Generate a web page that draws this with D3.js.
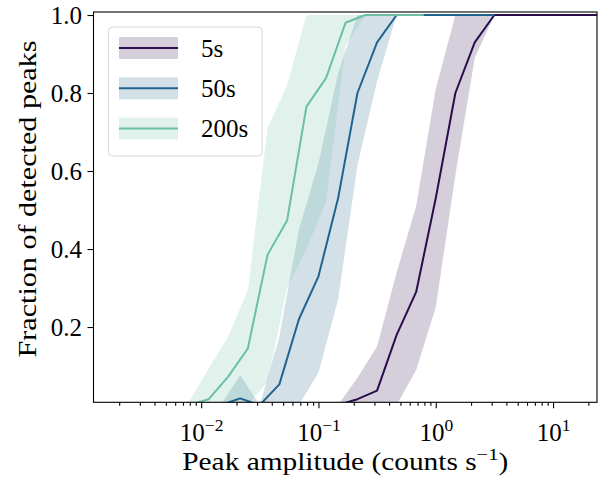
<!DOCTYPE html>
<html>
<head>
<meta charset="utf-8">
<script src="https://cdn.jsdelivr.net/npm/d3@7"></script>
<style>
  body { margin: 0; background: #fff; }
  svg text { font-family: "Liberation Serif", "DejaVu Serif", serif !important; }
</style>
</head>
<body>
<svg id="chart" width="610" height="477"></svg>
<script>
// amplitude grids (counts s^-1), one per timescale
const amp5 = [0.0316, 0.0464, 0.0681, 0.1, 0.147, 0.215, 0.316, 0.464, 0.681, 1, 1.47, 2.15, 3.16, 4.64, 6.81, 10, 14.7, 21.5, 31.6]
const amp50 = [0.00316, 0.00464, 0.00681, 0.01, 0.0147, 0.0215, 0.0316, 0.0464, 0.0681, 0.1, 0.147, 0.215, 0.316, 0.464, 0.681, 1, 1.47, 2.15, 3.16]
const amp200 = [0.00079, 0.00116, 0.0017, 0.0025, 0.00368, 0.0054, 0.0079, 0.0116, 0.017, 0.025, 0.0368, 0.054, 0.079, 0.116, 0.17, 0.25, 0.368, 0.54, 0.79]

// fraction of detected peaks (mean, lower and upper band)
const mean5 = [0, 0, 0, 0, 0, 0.015, 0.037, 0.18, 0.29, 0.53, 0.80, 0.93, 1, 1, 1, 1, 1, 1, 1]
const lo5 = [0, 0, 0, 0, 0, 0, 0, 0, 0.09, 0.25, 0.59, 0.89, 1, 1, 1, 1, 1, 1, 1]
const up5 = [0, 0, 0, 0, 0, 0.07, 0.15, 0.34, 0.51, 0.81, 1, 1, 1, 1, 1, 1, 1, 1, 1]

const mean50 = [0, 0, 0, 0, 0, 0.017, 0, 0.053, 0.22, 0.33, 0.53, 0.80, 0.93, 1, 1, 1, 1, 1, 1]
const lo50 = [0, 0, 0, 0, 0, 0, 0, 0, 0, 0.083, 0.27, 0.615, 0.83, 1, 1, 1, 1, 1, 1]
const up50 = [0, 0, 0, 0, 0, 0.077, 0, 0.175, 0.45, 0.62, 0.85, 1, 1, 1, 1, 1, 1, 1, 1]

const mean200 = [0, 0, 0, 0, 0, 0, 0, 0.015, 0.073, 0.145, 0.385, 0.473, 0.765, 0.838, 0.98, 1, 1, 1, 1]
const lo200 = [0, 0, 0, 0, 0, 0, 0, 0, 0, 0, 0.06, 0.3, 0.4, 0.52, 0.92, 1, 1, 1, 1]
const up200 = [0, 0, 0, 0, 0, 0, 0.01, 0.094, 0.175, 0.295, 0.71, 0.82, 1, 1, 1, 1, 1, 1, 1]

const labels = ["5s", "50s", "200s"]
const colors = ["#2a0d4a", "#22628e", "#6abfa6"]
const yTicks = [0.2, 0.4, 0.6, 0.8, 1.0]
const xMajor = [0.01, 0.1, 1, 10]

const series = [
  {amp: amp5, mean: mean5, lo: lo5, up: up5},
  {amp: amp50, mean: mean50, lo: lo50, up: up50},
  {amp: amp200, mean: mean200, lo: lo200, up: up200}
]

const LEFT = 93.5, TOP = 12
const width = 503.5, height = 390.3
const FONT = 25

const svg = d3.select('#chart')
const g = svg.append('g').attr('transform', `translate(${LEFT}, ${TOP})`)

const x = d3.scaleLog().domain([0.001208, 23.7]).range([0, width])
const y = d3.scaleLinear().domain([0.007, 1.0077]).range([height, 0])

g.append('clipPath').attr('id', 'clip')
  .append('rect').attr('width', width).attr('height', height)

const plot = g.append('g').attr('clip-path', 'url(#clip)')

// bands first, then lines (like seaborn zorder)
series.forEach((s, i) => {
  const pts = s.amp.map((a, j) => ({a: a, lo: s.lo[j], up: s.up[j]}))
  plot.append('path')
    .datum(pts)
    .attr('fill', colors[i])
    .attr('fill-opacity', 0.2)
    .attr('d', d3.area().x(d => x(d.a)).y0(d => y(d.lo)).y1(d => y(d.up)))
})
series.forEach((s, i) => {
  const pts = s.amp.map((a, j) => ({a: a, v: s.mean[j]}))
  plot.append('path')
    .datum(pts)
    .attr('fill', 'none')
    .attr('stroke', colors[i])
    .attr('stroke-width', 2)
    .attr('stroke-linejoin', 'round')
    .attr('d', d3.line().x(d => x(d.a)).y(d => y(d.v)))
})

// x axis: majors with 10^n labels, plus minor ticks
const xMinor = []
for (let e = -3; e <= 1; e++) {
  for (let m = 2; m <= 9; m++) {
    const v = m * Math.pow(10, e)
    if (v > x.domain()[0] && v < x.domain()[1]) xMinor.push(v)
  }
}
g.append('g')
  .attr('transform', `translate(0, ${height})`)
  .call(d3.axisBottom(x).tickValues(xMinor).tickSize(3.5).tickFormat(''))
  .call(a => a.select('.domain').remove())

const xAxis = g.append('g')
  .attr('transform', `translate(0, ${height})`)
  .call(d3.axisBottom(x).tickValues(xMajor).tickSize(6).tickPadding(9).tickFormat(''))
xAxis.attr('font-family', null)
xAxis.select('.domain').remove()
xAxis.selectAll('.tick text')
  .attr('font-size', FONT)
  .attr('dy', '0.95em')
  .each(function (d) {
    const t = d3.select(this)
    const p = Math.round(Math.log10(d))
    t.append('tspan').text('10')
    t.append('tspan').attr('font-size', FONT * 0.7).attr('dy', -10)
      .text(p < 0 ? '\u2212' + Math.abs(p) : p)
  })

// y axis
const yAxis = g.append('g')
  .call(d3.axisLeft(y).tickValues(yTicks).tickSize(6).tickPadding(5.5).tickFormat(d3.format('.1f')))
yAxis.attr('font-family', null)
yAxis.select('.domain').remove()
yAxis.selectAll('.tick text').attr('font-size', FONT)

g.selectAll('.tick line').attr('stroke', '#000').attr('stroke-width', 1.1)

// frame
g.append('rect')
  .attr('width', width).attr('height', height)
  .attr('fill', 'none').attr('stroke', '#000').attr('stroke-width', 1.1)

// axis labels
svg.append('text')
  .attr('x', LEFT + width / 2).attr('y', 470)
  .attr('text-anchor', 'middle')
  .attr('font-size', FONT)
  .attr('textLength', 326).attr('lengthAdjust', 'spacingAndGlyphs')
  .text('Peak amplitude (counts s')
  .call(t => t.append('tspan').attr('font-size', FONT * 0.7).attr('dy', -10).text('\u22121'))
  .call(t => t.append('tspan').attr('dy', 10).text(')'))

svg.append('text')
  .attr('transform', `translate(36, 199) rotate(-90)`)
  .attr('text-anchor', 'middle')
  .attr('font-size', FONT)
  .attr('textLength', 317).attr('lengthAdjust', 'spacingAndGlyphs')
  .text('Fraction of detected peaks')

// legend
const legend = svg.append('g').attr('transform', 'translate(108.5, 27)')
legend.append('rect')
  .attr('width', 153.5).attr('height', 129)
  .attr('rx', 4)
  .attr('fill', '#fff').attr('fill-opacity', 0.8)
  .attr('stroke', '#d6d6d6').attr('stroke-width', 1)
labels.forEach((lab, i) => {
  const cy = 21 + i * 40.3
  legend.append('rect')
    .attr('x', 10.5).attr('y', cy - 11).attr('width', 59).attr('height', 22)
    .attr('fill', colors[i]).attr('fill-opacity', 0.2)
  legend.append('line')
    .attr('x1', 10.5).attr('x2', 69.5).attr('y1', cy).attr('y2', cy)
    .attr('stroke', colors[i]).attr('stroke-width', 2)
  legend.append('text')
    .attr('x', 92.5).attr('y', cy + 8.5)
    .attr('font-size', FONT)
    .text(lab)
})
</script>
</body>
</html>
